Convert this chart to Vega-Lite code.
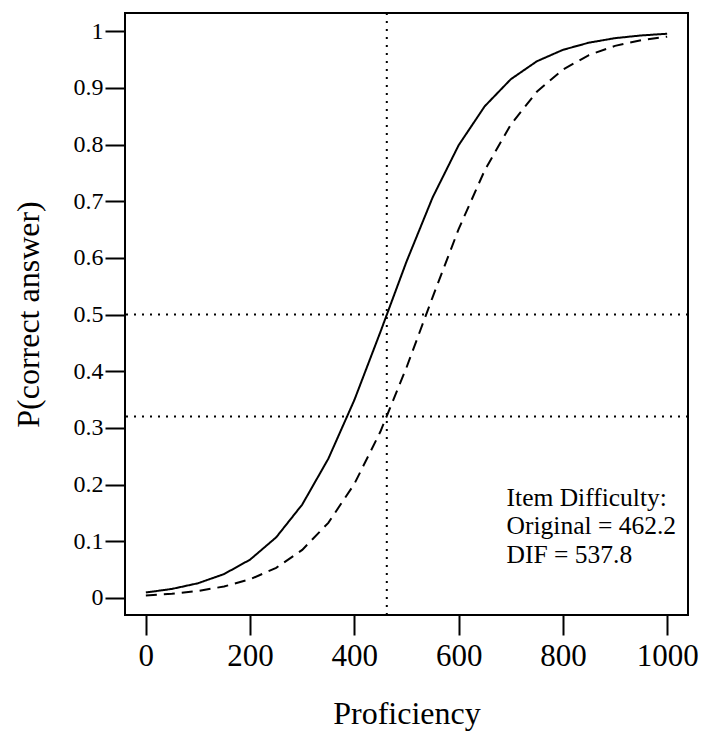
{
  "$schema": "https://vega.github.io/schema/vega-lite/v6.json",
  "width": 563,
  "height": 602,
  "autosize": {"type": "none"},
  "padding": {"left": 125, "top": 13, "right": 13, "bottom": 117},
  "background": "white",
  "config": {
    "view": {"stroke": "black", "strokeWidth": 2},
    "font": "Liberation Serif",
    "axis": {
      "domain": false,
      "grid": false,
      "tickColor": "black",
      "tickWidth": 2,
      "tickSize": 20,
      "labelColor": "black",
      "titleColor": "black",
      "labelFont": "Liberation Serif",
      "titleFont": "Liberation Serif",
      "titleFontWeight": "normal"
    }
  },
  "datasets": {
    "curves": [
      {"theta": 0, "p": 0.0097, "group": "Original"},
      {"theta": 50, "p": 0.0160, "group": "Original"},
      {"theta": 100, "p": 0.0260, "group": "Original"},
      {"theta": 150, "p": 0.0422, "group": "Original"},
      {"theta": 200, "p": 0.0677, "group": "Original"},
      {"theta": 250, "p": 0.1070, "group": "Original"},
      {"theta": 300, "p": 0.1649, "group": "Original"},
      {"theta": 350, "p": 0.2456, "group": "Original"},
      {"theta": 400, "p": 0.3493, "group": "Original"},
      {"theta": 450, "p": 0.4695, "group": "Original"},
      {"theta": 500, "p": 0.5934, "group": "Original"},
      {"theta": 550, "p": 0.7064, "group": "Original"},
      {"theta": 600, "p": 0.7987, "group": "Original"},
      {"theta": 650, "p": 0.8674, "group": "Original"},
      {"theta": 700, "p": 0.9151, "group": "Original"},
      {"theta": 750, "p": 0.9468, "group": "Original"},
      {"theta": 800, "p": 0.9670, "group": "Original"},
      {"theta": 850, "p": 0.9797, "group": "Original"},
      {"theta": 900, "p": 0.9876, "group": "Original"},
      {"theta": 950, "p": 0.9924, "group": "Original"},
      {"theta": 1000, "p": 0.9954, "group": "Original"},
      {"theta": 0, "p": 0.0046, "group": "DIF"},
      {"theta": 50, "p": 0.0076, "group": "DIF"},
      {"theta": 100, "p": 0.0124, "group": "DIF"},
      {"theta": 150, "p": 0.0203, "group": "DIF"},
      {"theta": 200, "p": 0.0330, "group": "DIF"},
      {"theta": 250, "p": 0.0532, "group": "DIF"},
      {"theta": 300, "p": 0.0849, "group": "DIF"},
      {"theta": 350, "p": 0.1326, "group": "DIF"},
      {"theta": 400, "p": 0.2013, "group": "DIF"},
      {"theta": 450, "p": 0.2936, "group": "DIF"},
      {"theta": 500, "p": 0.4066, "group": "DIF"},
      {"theta": 550, "p": 0.5305, "group": "DIF"},
      {"theta": 600, "p": 0.6507, "group": "DIF"},
      {"theta": 650, "p": 0.7544, "group": "DIF"},
      {"theta": 700, "p": 0.8351, "group": "DIF"},
      {"theta": 750, "p": 0.8930, "group": "DIF"},
      {"theta": 800, "p": 0.9323, "group": "DIF"},
      {"theta": 850, "p": 0.9578, "group": "DIF"},
      {"theta": 900, "p": 0.9740, "group": "DIF"},
      {"theta": 950, "p": 0.9840, "group": "DIF"},
      {"theta": 1000, "p": 0.9903, "group": "DIF"}
    ],
    "hrefs": [{"level": 0.5}, {"level": 0.32}],
    "vrefs": [{"difficulty": 462.2}],
    "note": [{"label": "Item Difficulty:\nOriginal = 462.2\nDIF = 537.8"}]
  },
  "layer": [
    {
      "data": {"name": "hrefs"},
      "mark": {"type": "rule", "color": "black", "strokeWidth": 2, "strokeDash": [2, 6]},
      "encoding": {
        "y": {"field": "level", "type": "quantitative", "scale": {"domain": [-0.03, 1.032], "nice": false, "zero": false}}
      }
    },
    {
      "data": {"name": "vrefs"},
      "mark": {"type": "rule", "color": "black", "strokeWidth": 2, "strokeDash": [2, 6]},
      "encoding": {
        "x": {"field": "difficulty", "type": "quantitative", "scale": {"domain": [-40, 1040], "nice": false, "zero": false}}
      }
    },
    {
      "data": {"name": "curves"},
      "mark": {"type": "line", "color": "black", "strokeWidth": 2},
      "encoding": {
        "x": {
          "field": "theta", "type": "quantitative",
          "scale": {"domain": [-40, 1040], "nice": false, "zero": false},
          "axis": {
            "values": [0, 200, 400, 600, 800, 1000],
            "format": "d",
            "labelFontSize": 31,
            "labelPadding": 6,
            "title": "Proficiency",
            "titleFontSize": 32,
            "titlePadding": 27
          }
        },
        "y": {
          "field": "p", "type": "quantitative",
          "scale": {"domain": [-0.03, 1.032], "nice": false, "zero": false},
          "axis": {
            "values": [0, 0.1, 0.2, 0.3, 0.4, 0.5, 0.6, 0.7, 0.8, 0.9, 1],
            "format": ".1~f",
            "labelFontSize": 24,
            "labelPadding": 2,
            "title": "P(correct answer)",
            "titleFontSize": 32,
            "titlePadding": 28
          }
        },
        "detail": {"field": "group"},
        "strokeDash": {
          "field": "group", "type": "nominal",
          "scale": {"domain": ["Original", "DIF"], "range": [[1, 0], [11, 7]]},
          "legend": null
        }
      }
    },
    {
      "data": {"name": "note"},
      "mark": {"type": "text", "align": "left", "baseline": "alphabetic", "fontSize": 25.5, "font": "Liberation Serif", "color": "black", "lineBreak": "\n", "lineHeight": 28.5},
      "encoding": {
        "text": {"field": "label"},
        "x": {"datum": 692},
        "y": {"datum": 0.163}
      }
    }
  ]
}
